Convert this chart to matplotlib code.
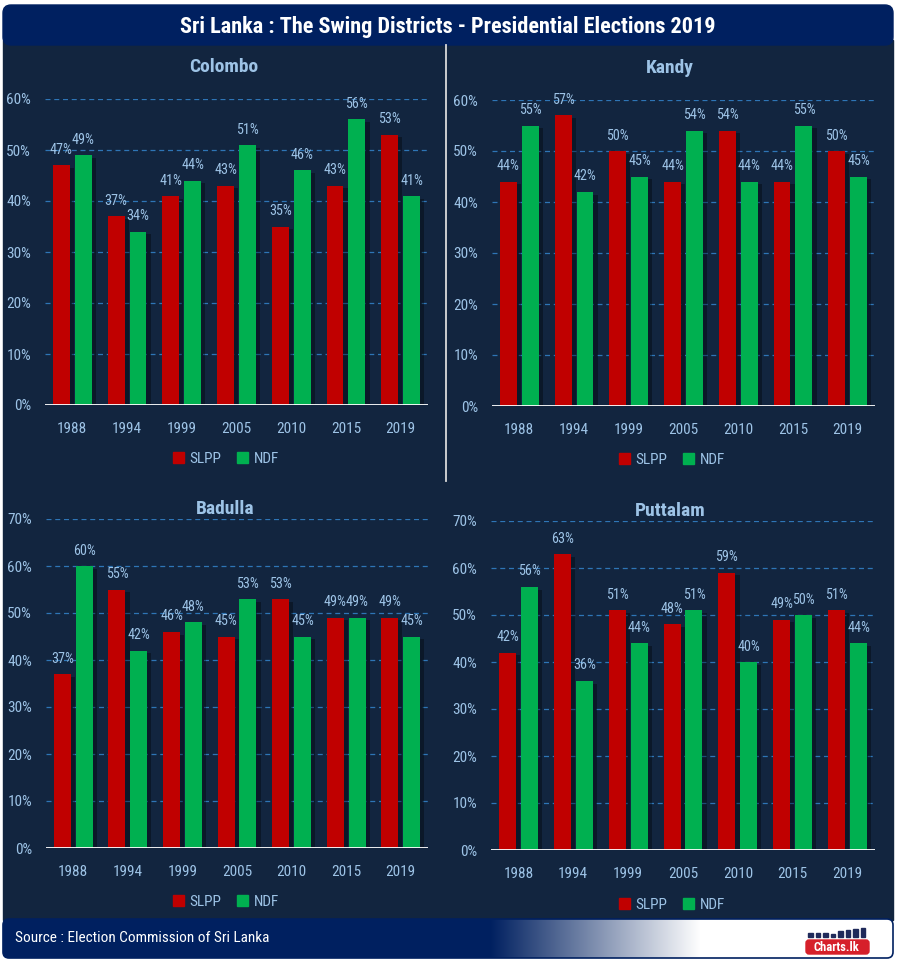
import numpy as np
import matplotlib.pyplot as plt
from matplotlib.patches import FancyBboxPatch, Rectangle, Patch
import matplotlib.patheffects as pe

plt.rcParams['font.family'] = ['Roboto Condensed', 'DejaVu Sans Condensed', 'Liberation Sans Narrow',
                               'Open Sans Condensed', 'Roboto', 'DejaVu Sans']
plt.rcParams['font.stretch'] = 'condensed'

# -----------------------
# Data (vote share %)
# -----------------------
years = ['1988', '1994', '1999', '2005', '2010', '2015', '2019']

colombo_slpp = [47, 37, 41, 43, 35, 43, 53]
colombo_ndf = [49, 34, 44, 51, 46, 56, 41]

kandy_slpp = [44, 57, 50, 44, 54, 44, 50]
kandy_ndf = [55, 42, 45, 54, 44, 55, 45]

badulla_slpp = [37, 55, 46, 45, 53, 49, 49]
badulla_ndf = [60, 42, 48, 53, 45, 49, 45]

puttalam_slpp = [42, 63, 51, 48, 59, 49, 51]
puttalam_ndf = [56, 36, 44, 51, 40, 50, 44]

# -----------------------
# Style
# -----------------------
W, H = 897, 961
NAVY = '#002060'
PANEL = '#12253f'
TXT = '#9dc3e6'
RED = '#c00000'
GREEN = '#00b050'
GRID = '#2e75b6'

fig = plt.figure(figsize=(W / 100, H / 100), dpi=100)
fig.patch.set_facecolor('white')


def px_rect(x0, y0, x1, y1):
    return [x0 / W, 1 - y1 / H, (x1 - x0) / W, (y1 - y0) / H]


# background / frame in pixel coords
bg = fig.add_axes([0, 0, 1, 1])
bg.set_xlim(0, W)
bg.set_ylim(H, 0)
bg.axis('off')

bg.add_patch(Rectangle((3, 40), 890, 880, color=PANEL, zorder=0))
bg.add_patch(FancyBboxPatch((3, 5), 890, 40, boxstyle='round,pad=0,rounding_size=8',
                            color=NAVY, zorder=1))
bg.text(448, 27, 'Sri Lanka : The Swing Districts - Presidential Elections 2019',
        color='white', fontsize=16, fontweight='bold', ha='center', va='center', zorder=2)
bg.plot([446, 446], [45, 481], color='#d9d9d9', lw=1.3, zorder=2)

# footer with navy -> white gradient
foot = FancyBboxPatch((3, 919), 890, 39, boxstyle='round,pad=0,rounding_size=6',
                      facecolor='none', edgecolor=NAVY, lw=1.2, zorder=3)
xs = np.arange(W)
t = np.clip((xs - 490) / 210, 0, 1)
navy_rgb = np.array([0, 32, 96]) / 255
grad = navy_rgb[None, :] * (1 - t[:, None]) + t[:, None]
img = bg.imshow(grad[None, :, :], extent=(0, W, 958, 919), aspect='auto', zorder=1)
img.set_clip_path(FancyBboxPatch((3, 919), 890, 39, boxstyle='round,pad=0,rounding_size=6',
                                 transform=bg.transData))
bg.add_patch(foot)
bg.text(15, 938, 'Source : Election Commission of Sri Lanka', color='white',
        fontsize=11, ha='left', va='center', zorder=4)

# little Charts.lk logo
bg.add_patch(FancyBboxPatch((806, 940), 63, 14, boxstyle='round,pad=0,rounding_size=3',
                            color='#d6202a', zorder=4))
bg.text(836, 947.5, 'Charts.lk', color='white', fontsize=9, fontweight='bold',
        ha='center', va='center', zorder=5)
for i, hgt in enumerate([4, 4, 4, 3, 6, 7, 8, 9]):
    bg.add_patch(Rectangle((808 + i * 7.5, 937 - hgt), 4.5, hgt, color='#1f2a5a', zorder=4))


# -----------------------
# Panels
# -----------------------
def draw_panel(rect_px, title, title_xy, legend_xy, slpp, ndf, ymax):
    ax = fig.add_axes(px_rect(*rect_px))
    ax.set_facecolor('none')
    x = np.arange(len(years))
    shadow = [pe.SimplePatchShadow(offset=(3, -2), shadow_rgbFace='black', alpha=0.35),
              pe.Normal()]
    b1 = ax.bar(x - 0.2, np.array(slpp) / 100, width=0.31, color=RED, zorder=3)
    b2 = ax.bar(x + 0.2, np.array(ndf) / 100, width=0.31, color=GREEN, zorder=3)
    for bars, vals in [(b1, slpp), (b2, ndf)]:
        for b, v in zip(bars, vals):
            b.set_path_effects(shadow)
            ax.annotate(f'{v}%', (b.get_x() + b.get_width() / 2, b.get_height()),
                        xytext=(0, 6), textcoords='offset points', ha='center',
                        va='bottom', color=TXT, fontsize=10.2, zorder=4)
    ax.set_xlim(-0.5, len(years) - 0.5)
    ax.set_ylim(0, ymax / 100)
    ticks = np.arange(0, ymax + 1, 10)
    ax.set_yticks(ticks / 100)
    ax.set_yticklabels([f'{v}%' for v in ticks])
    for v in ticks[1:]:
        ax.axhline(v / 100, color=GRID, lw=0.9, ls=(0, (4, 3)), zorder=1)
    ax.axhline(0, color='white', lw=1.3, zorder=5)
    ax.set_xticks(x)
    ax.set_xticklabels(years)
    ax.tick_params(length=0, colors=TXT, labelsize=11)
    ax.tick_params(axis='x', pad=12)
    ax.tick_params(axis='y', pad=10)
    for s in ax.spines.values():
        s.set_visible(False)
    bg.text(title_xy[0], title_xy[1], title, color=TXT, fontsize=14, fontweight='bold',
            ha='center', va='center', zorder=5)
    handles = [Patch(color=RED, label='SLPP'), Patch(color=GREEN, label='NDF')]
    fig.legend(handles=handles, loc='center', ncol=2, frameon=False,
               bbox_to_anchor=(legend_xy[0] / W, 1 - legend_xy[1] / H),
               labelcolor=TXT, fontsize=11, handlelength=0.7, handleheight=0.7,
               handletextpad=0.4, columnspacing=1.0)
    return ax


draw_panel((45, 99, 428, 405), 'Colombo', (224, 67), (226, 459), colombo_slpp, colombo_ndf, 60)
draw_panel((492, 100, 875, 406), 'Kandy', (670, 68), (672, 460), kandy_slpp, kandy_ndf, 60)
draw_panel((46, 519, 428, 848), 'Badulla', (225, 509), (226, 902), badulla_slpp, badulla_ndf, 70)
draw_panel((491, 521, 875, 850), 'Puttalam', (670, 511), (672, 905), puttalam_slpp, puttalam_ndf, 70)

fig.savefig('out.png', dpi=100, facecolor=fig.get_facecolor())
